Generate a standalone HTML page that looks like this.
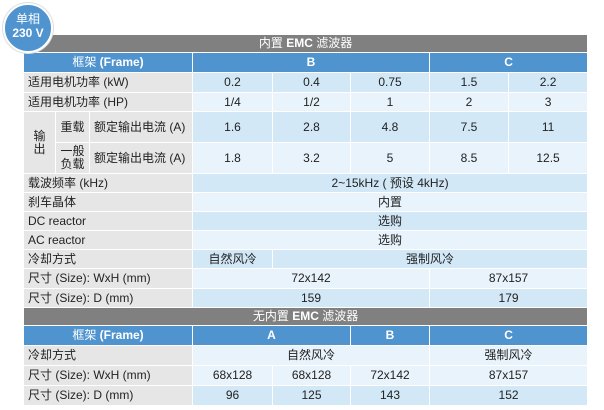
<!DOCTYPE html>
<html><head><meta charset="utf-8"><style>
body{margin:0;width:604px;height:410px;background:#fff;position:relative;overflow:hidden;font-family:"Liberation Sans","Noto Sans CJK SC",sans-serif;}
table{position:absolute;left:23px;top:34px;width:564px;border-collapse:collapse;table-layout:fixed;font-size:12px;color:#222;}
td{border:1px solid #fff;padding:0;text-align:center;height:18px;line-height:13px;}
tr.t td{height:19px;}
td.l{background:#e6e6e6;text-align:left;padding-left:4px;}
td.c{background:#e6e6e6;}
.h td{background:#808080;color:#fff;height:17px;}
.f td{background:#4f93cf;color:#fff;}
.f b{font-weight:bold;}
.d td.v{background:#d2e8f7;}
.e td.v{background:#e8f3fb;}
.badge{position:absolute;left:3px;top:3px;width:46px;height:46px;border-radius:50%;background:#4f93cf;border:2px solid #fff;box-shadow:0 0 0 1px #ddd;color:#fff;text-align:center;font-size:12px;line-height:14px;font-weight:bold;z-index:2;}
</style></head><body>
<div class="badge"><div style="padding-top:7px;font-weight:normal">单相</div><div>230 V</div></div>
<table>
<colgroup><col style="width:32px"><col style="width:34px"><col style="width:103px"><col style="width:80px"><col style="width:78px"><col style="width:79px"><col style="width:79px"><col style="width:79px"></colgroup>
<tr class="h"><td colspan="8">内置 <b>EMC</b> 滤波器</td></tr>
<tr class="f t"><td colspan="3">框架 <b>(Frame)</b></td><td colspan="3"><b>B</b></td><td colspan="2"><b>C</b></td></tr>
<tr class="d t"><td class="l" colspan="3">适用电机功率 (kW)</td><td class="v">0.2</td><td class="v">0.4</td><td class="v">0.75</td><td class="v">1.5</td><td class="v">2.2</td></tr>
<tr class="e"><td class="l" colspan="3">适用电机功率 (HP)</td><td class="v">1/4</td><td class="v">1/2</td><td class="v">1</td><td class="v">2</td><td class="v">3</td></tr>
<tr class="d"><td class="c" rowspan="2" style="height:61px">输<br>出</td><td class="c" style="height:30px">重载</td><td class="l">额定输出电流 (A)</td><td class="v">1.6</td><td class="v">2.8</td><td class="v">4.8</td><td class="v">7.5</td><td class="v">11</td></tr>
<tr class="e"><td class="c" style="height:30px">一般<br>负载</td><td class="l">额定输出电流 (A)</td><td class="v">1.8</td><td class="v">3.2</td><td class="v">5</td><td class="v">8.5</td><td class="v">12.5</td></tr>
<tr class="d"><td class="l" colspan="3">载波频率 (kHz)</td><td class="v" colspan="5">2~15kHz ( 预设 4kHz)</td></tr>
<tr class="e"><td class="l" colspan="3">刹车晶体</td><td class="v" colspan="5">内置</td></tr>
<tr class="d"><td class="l" colspan="3">DC reactor</td><td class="v" colspan="5">选购</td></tr>
<tr class="e"><td class="l" colspan="3">AC reactor</td><td class="v" colspan="5">选购</td></tr>
<tr class="d"><td class="l" colspan="3">冷却方式</td><td class="v">自然风冷</td><td class="v" colspan="4">强制风冷</td></tr>
<tr class="e t"><td class="l" colspan="3">尺寸 (Size): WxH (mm)</td><td class="v" colspan="3">72x142</td><td class="v" colspan="2">87x157</td></tr>
<tr class="d"><td class="l" colspan="3">尺寸 (Size): D (mm)</td><td class="v" colspan="3">159</td><td class="v" colspan="2">179</td></tr>
<tr class="h"><td colspan="8">无内置 <b>EMC</b> 滤波器</td></tr>
<tr class="f t"><td colspan="3">框架 <b>(Frame)</b></td><td colspan="2"><b>A</b></td><td><b>B</b></td><td colspan="2"><b>C</b></td></tr>
<tr class="e t"><td class="l" colspan="3">冷却方式</td><td class="v" colspan="3">自然风冷</td><td class="v" colspan="2">强制风冷</td></tr>
<tr class="e t"><td class="l" colspan="3">尺寸 (Size): WxH (mm)</td><td class="v">68x128</td><td class="v">68x128</td><td class="v">72x142</td><td class="v" colspan="2">87x157</td></tr>
<tr class="d t"><td class="l" colspan="3">尺寸 (Size): D (mm)</td><td class="v">96</td><td class="v">125</td><td class="v">143</td><td class="v" colspan="2">152</td></tr>
</table>
</body></html>
